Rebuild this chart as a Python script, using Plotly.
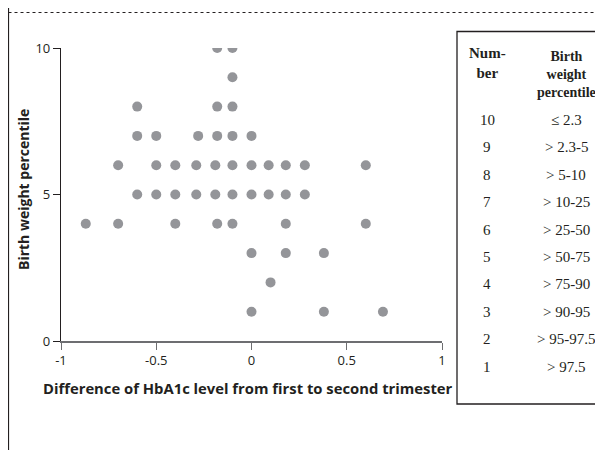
import plotly.graph_objects as go

# ---- data ----
hba1c_diff = [
    -0.18, -0.10,                                   # 10
    -0.10,                                          # 9
    -0.60, -0.18, -0.10,                            # 8
    -0.60, -0.50, -0.28, -0.18, -0.10, 0.00,        # 7
    -0.70, -0.50, -0.40, -0.29, -0.19, -0.10, 0.00, 0.09, 0.18, 0.28, 0.60,  # 6
    -0.60, -0.50, -0.40, -0.29, -0.19, -0.10, 0.00, 0.09, 0.18, 0.28,        # 5
    -0.87, -0.70, -0.40, -0.18, -0.10, 0.18, 0.60,  # 4
    0.00, 0.18, 0.38,                               # 3
    0.10,                                           # 2
    0.00, 0.38, 0.69,                               # 1
]
bw_number = (
    [10] * 2 + [9] * 1 + [8] * 3 + [7] * 6 + [6] * 11 + [5] * 10 + [4] * 7 + [3] * 3 + [2] * 1 + [1] * 3
)
x_ticks = [-1, -0.5, 0, 0.5, 1]
x_ticktext = ["-1", "-0.5", "0", "0.5", "1"]
y_ticks = [0, 5, 10]
y_ticktext = ["0", "5", "10"]
x_title = "Difference of HbA1c level from first to second trimester"
y_title = "Birth weight percentile"
table_numbers = ["10", "9", "8", "7", "6", "5", "4", "3", "2", "1"]
table_percentiles = ["≤ 2.3", "> 2.3-5", "> 5-10", "> 10-25", "> 25-50",
                     "> 50-75", "> 75-90", "> 90-95", "> 95-97.5", "> 97.5"]

OFF = 8                      # browser body margin
W, H = 603 - OFF, 450 - OFF
# plot area in page pixels
PL, PR, PT, PB = 61, 442, 48, 341
L, R, T, B = PL - OFF, PR - OFF, PT - OFF, PB - OFF


def px(x):
    """page x pixel -> paper coordinate"""
    return (x - PL) / (PR - PL)


def py(y):
    """page y pixel -> paper coordinate"""
    return (PB - y) / (PB - PT)


fig = go.Figure()
fig.add_trace(go.Scatter(
    x=hba1c_diff, y=bw_number, mode="markers",
    marker=dict(size=10, color="#949599", line=dict(width=0)),
    hoverinfo="x+y", showlegend=False,
))

sans = "Open Sans"
serif = "Liberation Serif"
ink = "#231f20"

fig.update_layout(
    width=W, height=H,
    margin=dict(l=L, r=W - R, t=T, b=H - B),
    paper_bgcolor="white", plot_bgcolor="white",
    xaxis=dict(
        range=[-1, 1], tickvals=x_ticks, ticktext=x_ticktext,
        showgrid=False, zeroline=False, showline=True, linecolor="#6d6e71", linewidth=1.5,
        ticks="outside", ticklen=7, tickwidth=1.2, tickcolor="#6d6e71",
        tickfont=dict(family=sans, size=13, color=ink),
    ),
    yaxis=dict(
        range=[0, 10], tickvals=y_ticks, ticktext=y_ticktext,
        showgrid=False, zeroline=False, showline=True, linecolor=ink, linewidth=1.2,
        ticks="outside", ticklen=7, tickwidth=1.2, tickcolor=ink,
        tickfont=dict(family=sans, size=13, color=ink),
    ),
)

shapes = []
# page frame line at left
shapes.append(dict(type="line", xref="paper", yref="paper",
                   x0=px(8.5), x1=px(8.5), y0=py(0), y1=py(460),
                   line=dict(color=ink, width=1.2)))
# dotted rule at top
shapes.append(dict(type="line", xref="paper", yref="paper",
                   x0=px(8.5), x1=px(610), y0=py(12.5), y1=py(12.5),
                   line=dict(color=ink, width=1, dash="dot")))
# table box (right side runs off the page)
shapes.append(dict(type="rect", xref="paper", yref="paper",
                   x0=px(457), x1=px(610), y0=py(404), y1=py(31.5),
                   line=dict(color=ink, width=1.3)))
fig.update_layout(shapes=shapes)

ann = []
# axis titles
ann.append(dict(x=px(247.5), y=py(388), xref="paper", yref="paper", text=f"<b>{x_title}</b>",
                showarrow=False, xanchor="center", yanchor="middle",
                font=dict(family=sans, size=14.8, color=ink)))
ann.append(dict(x=px(23), y=py(190), xref="paper", yref="paper", text=f"<b>{y_title}</b>",
                showarrow=False, xanchor="center", yanchor="middle", textangle=-90,
                font=dict(family=sans, size=14, color=ink)))
# table
col1, col2 = 487, 566
ann.append(dict(x=px(col1), y=py(63), xref="paper", yref="paper", text="<b>Num-<br>ber</b>",
                showarrow=False, xanchor="center", yanchor="middle",
                font=dict(family=serif, size=15, color=ink)))
ann.append(dict(x=px(col2), y=py(74), xref="paper", yref="paper",
                text="<b>Birth<br>weight<br>percentile</b>",
                showarrow=False, xanchor="center", yanchor="middle",
                font=dict(family=serif, size=14, color=ink)))
row0, step = 120, 27.4
for i, (n, p) in enumerate(zip(table_numbers, table_percentiles)):
    yy = row0 + i * step
    ann.append(dict(x=px(col1), y=py(yy), xref="paper", yref="paper", text=n,
                    showarrow=False, xanchor="center", yanchor="middle",
                    font=dict(family=serif, size=15, color=ink)))
    ann.append(dict(x=px(col2), y=py(yy), xref="paper", yref="paper", text=p,
                    showarrow=False, xanchor="center", yanchor="middle",
                    font=dict(family=serif, size=15, color=ink)))
fig.update_layout(annotations=ann)

fig.write_html("out.html")
